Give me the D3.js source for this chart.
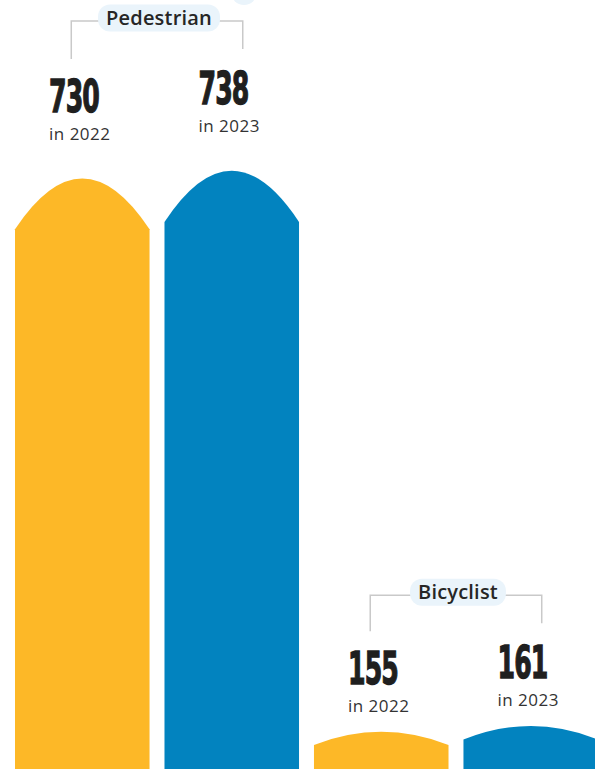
<!DOCTYPE html>
<html>
<head>
<meta charset="utf-8">
<script src="https://cdn.jsdelivr.net/npm/d3@7"></script>
<style>
  html, body { margin: 0; padding: 0; background: #ffffff; }
  svg { display: block; }
</style>
</head>
<body>
<div id="chart"></div>
<script>
// Road-user fatalities, two years side by side
const categories = ["Pedestrian", "Bicyclist"];
const years = ["2022", "2023"];
const values2022 = [730, 155];
const values2023 = [738, 161];

const width = 595, height = 769;
const colors = { "2022": "#FDB827", "2023": "#0283BF" };
const pillFill = "#EAF4FB";
const bracketColor = "#C9C9C9";

// one row per bar, in drawing order
const bars = [];
categories.forEach((c, i) => {
  bars.push({ category: c, year: years[0], value: values2022[i] });
  bars.push({ category: c, year: years[1], value: values2023[i] });
});
const key = d => d.category + "-" + d.year;

const svg = d3.select("#chart").append("svg")
  .attr("width", width).attr("height", height);

const x = d3.scaleBand()
  .domain(bars.map(key))
  .range([15, 598])
  .paddingInner(0.1)
  .paddingOuter(0);

const y = d3.scaleLinear()
  .domain([0, 800])
  .range([881, 111]);

// geometry derived from the scales
bars.forEach(d => {
  d.x0 = x(key(d));
  d.x1 = d.x0 + x.bandwidth();
  d.cx = d.x0 + x.bandwidth() / 2;
  d.peak = y(d.value);
  const h = y(0) - d.peak;
  d.arch = 3 + 0.068 * h;          // dome height grows with the bar
  d.shoulder = d.peak + d.arch;
  d.numBase = d.peak - (41 + 0.5 * d.arch);
  d.numTop = d.numBase - 33;
  d.yearBase = d.numBase + 28;
});

// small rounded tab poking in from the heading above
svg.append("circle")
  .attr("cx", 244).attr("cy", -8).attr("r", 13)
  .attr("fill", pillFill);

// domed bars
svg.append("g").selectAll("path")
  .data(bars)
  .join("path")
  .attr("fill", d => colors[d.year])
  .attr("d", d => {
    const p = d3.path();
    p.moveTo(d.x0, y(0));
    p.lineTo(d.x0, d.shoulder);
    p.quadraticCurveTo(d.cx, d.shoulder - 2 * d.arch, d.x1, d.shoulder);
    p.lineTo(d.x1, y(0));
    p.closePath();
    return p.toString();
  });

// value labels
const labels = svg.append("g").selectAll("g")
  .data(bars)
  .join("g")
  .attr("transform", d => `translate(${d.x0 + 34},0)`);

labels.append("text")
  .attr("transform", d => `translate(0,${d.numBase}) scale(0.56,1)`)
  .attr("font-family", "DejaVu Sans, sans-serif")
  .attr("font-weight", "bold")
  .attr("font-size", 45)
  .attr("letter-spacing", -1.5)
  .attr("fill", "#1f1f1f")
  .attr("stroke", "#1f1f1f")
  .attr("stroke-width", 1.4)
  .text(d => d3.format("d")(d.value));

labels.append("text")
  .attr("y", d => d.yearBase)
  .attr("font-family", "Open Sans, sans-serif")
  .attr("font-weight", 400)
  .attr("font-size", 17)
  .attr("letter-spacing", 0.5)
  .attr("fill", "#333333")
  .text(d => "in " + d.year);

// category brackets with pill labels
categories.forEach(c => {
  const pair = bars.filter(d => d.category === c);
  const a = pair[0], b = pair[1];
  const hy = Math.min(a.numTop, b.numTop) - 50;
  const lx = a.cx - 11, rx = b.cx + 11;
  const g = svg.append("g");

  g.append("path")
    .attr("fill", "none")
    .attr("stroke", bracketColor)
    .attr("stroke-width", 1.5)
    .attr("d", `M${lx},${a.numTop - 20}V${hy}H${rx}V${b.numTop - 22}`);

  const pill = g.append("rect").attr("fill", pillFill);
  const t = g.append("text")
    .attr("x", (lx + rx) / 2 + 2)
    .attr("y", hy + 4)
    .attr("text-anchor", "middle")
    .attr("font-family", "Open Sans, sans-serif")
    .attr("font-weight", 600)
    .attr("font-size", 20)
    .attr("letter-spacing", 0.2)
    .attr("fill", "#262626")
    .text(c);
  const w = t.node().getComputedTextLength();
  pill.attr("x", (lx + rx) / 2 + 2 - w / 2 - 8)
    .attr("y", hy - 16.5)
    .attr("width", w + 16)
    .attr("height", 27)
    .attr("rx", 12);
});
</script>
</body>
</html>
